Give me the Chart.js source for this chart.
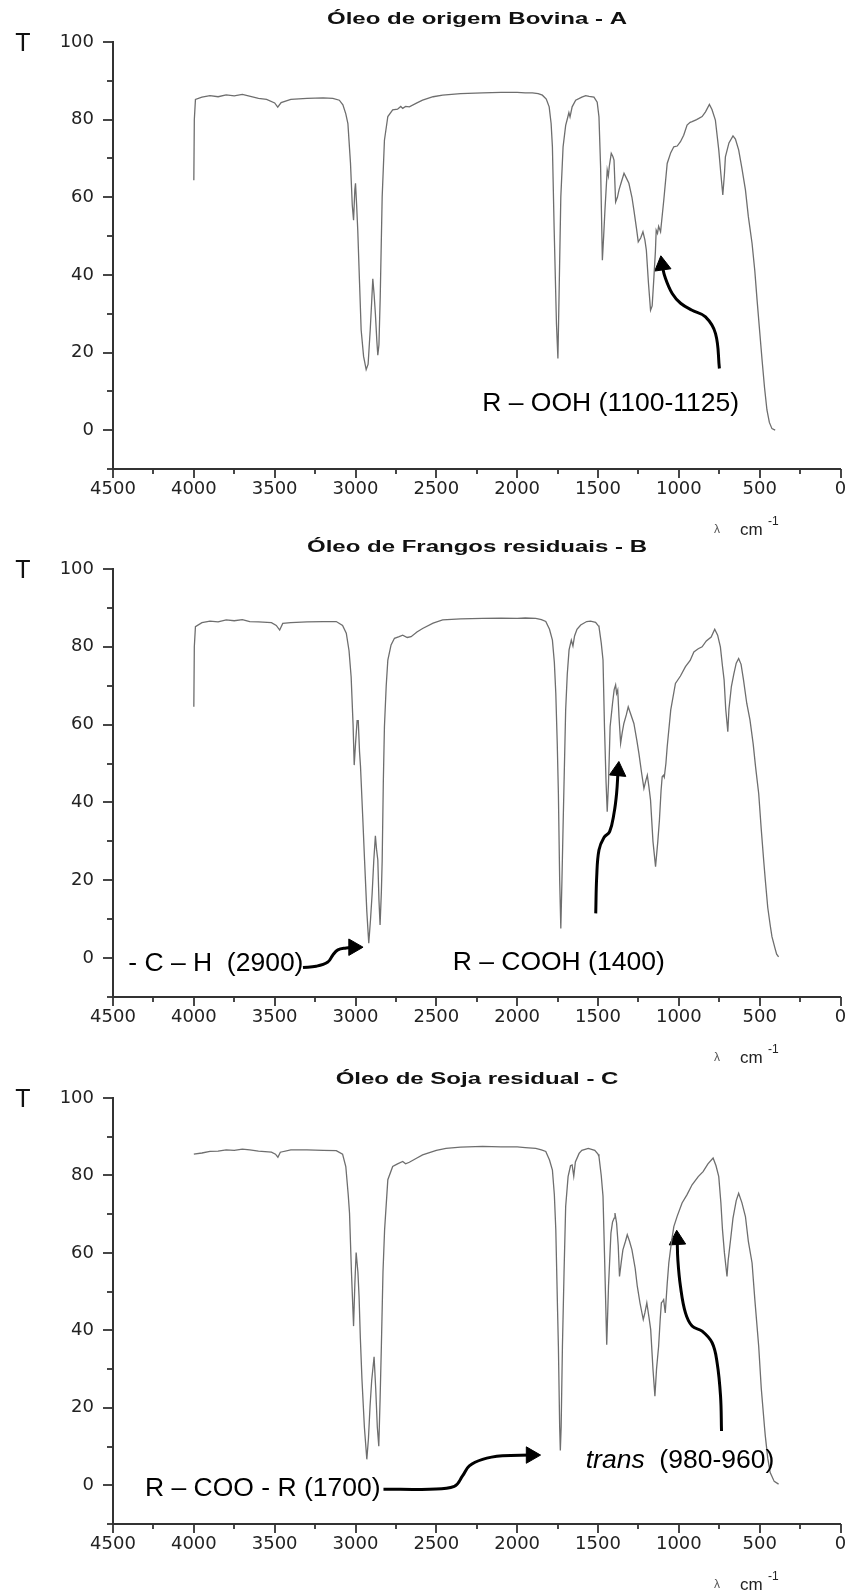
<!DOCTYPE html>
<html>
<head>
<meta charset="utf-8">
<title>Espectros FTIR</title>
<script src="https://cdn.jsdelivr.net/npm/chart.js@4.4.0/dist/chart.umd.min.js"></script>
<style>
  html, body { margin: 0; padding: 0; background: #fff; overflow: hidden; }
  .sheet { position: relative; width: 851px; height: 1593px; }
  .sheet canvas { position: absolute; left: 0; top: 0; }
</style>
</head>
<body>
<div class="sheet">
  <canvas id="chartA" width="851" height="1593"></canvas>
  <canvas id="chartB" width="851" height="1593"></canvas>
  <canvas id="chartC" width="851" height="1593"></canvas>
</div>
<script>
// tick labels
const xTickLabels = [4500, 4000, 3500, 3000, 2500, 2000, 1500, 1000, 500, 0];
const yTickLabels = [0, 20, 40, 60, 80, 100];

// A - oleo bovino (wavenumber cm-1 / transmittance)
const wnA = [4000, 3997, 3990, 3950, 3900, 3850, 3800, 3750, 3700, 3650, 3600, 3550, 3500, 3481, 3460, 3400, 3300, 3200, 3140, 3100,
  3078, 3060, 3047, 3031, 3020, 3012, 3004, 3000, 2993, 2986, 2975, 2965, 2950, 2934, 2922, 2909, 2900, 2893, 2885, 2877,
  2868, 2862, 2855, 2847, 2835, 2821, 2800, 2770, 2740, 2720, 2708, 2690, 2667, 2620, 2585, 2520, 2461, 2350, 2214, 2100,
  2000, 1950, 1906, 1870, 1844, 1820, 1802, 1790, 1782, 1771, 1757, 1748, 1741, 1730, 1716, 1700, 1689, 1680, 1673, 1660,
  1638, 1600, 1576, 1555, 1525, 1505, 1494, 1484, 1473, 1465, 1457, 1443, 1436, 1430, 1418, 1408, 1401, 1391, 1380, 1370,
  1355, 1339, 1325, 1309, 1290, 1278, 1262, 1251, 1236, 1222, 1210, 1201, 1188, 1175, 1165, 1154, 1145, 1140, 1132, 1125,
  1113, 1093, 1072, 1050, 1031, 1010, 990, 970, 949, 930, 918, 890, 856, 835, 811, 795, 774, 753, 740, 728,
  718, 712, 690, 665, 650, 630, 610, 588, 570, 547, 530, 516, 500, 485, 470, 455, 440, 424, 404];
const tA = [64.4, 80, 85.2, 85.8, 86.2, 85.9, 86.4, 86.1, 86.5, 86.0, 85.5, 85.2, 84.3, 83.2, 84.4, 85.2, 85.5, 85.6, 85.5, 85.0,
  83.8, 81.5, 79, 68.8, 58, 54.1, 62, 63.6, 58, 51.5, 38, 25.8, 19, 15.6, 17, 25.8, 33, 39, 35, 30,
  23, 19.3, 22, 34.4, 60.1, 74.7, 80.8, 82.5, 82.7, 83.4, 82.9, 83.4, 83.3, 84.3, 85, 85.9, 86.3, 86.7, 86.9, 87.0,
  87.0, 86.9, 86.9, 86.7, 86.3, 85.3, 83.3, 79, 73, 51.5, 27.5, 18.5, 34.4, 60.1, 73, 78.5, 80.3, 81.8, 80.7, 83.3,
  85, 85.8, 86.2, 86, 85.8, 84.5, 80.7, 67.9, 43.8, 50, 56.7, 67, 65.5, 68, 71.3, 70.5, 69.6, 58.8, 60, 61.9,
  64, 66.2, 65, 63.6, 60, 56.7, 52, 48.5, 49.5, 51.1, 49, 46.4, 38, 30.9, 32, 39.5, 46, 51.5, 50.7, 52.5,
  51.1, 59.3, 68.7, 71.5, 73, 73.2, 74.3, 76, 78.6, 79.3, 79.5, 80, 80.8, 82, 83.9, 82.6, 79.9, 72.2, 66, 60.6,
  66, 70.4, 74, 75.8, 75, 72.2, 67.5, 61.9, 55, 48.1, 41, 33.5, 25.5, 18, 11, 5.2, 2, 0.4, 0];

// B - oleo de frangos residuais
const wnB = [4000, 3997, 3990, 3950, 3900, 3850, 3800, 3750, 3700, 3654, 3600, 3520, 3490, 3469, 3450, 3400, 3300, 3200, 3119, 3080,
  3057, 3040, 3027, 3015, 3008, 3000, 2990, 2983, 2975, 2969, 2955, 2944, 2930, 2918, 2907, 2897, 2887, 2877, 2870, 2862,
  2855, 2848, 2840, 2835, 2828, 2821, 2810, 2800, 2780, 2759, 2730, 2708, 2680, 2656, 2620, 2585, 2520, 2461, 2350, 2214,
  2100, 2000, 1950, 1885, 1850, 1823, 1800, 1782, 1770, 1761, 1752, 1745, 1737, 1730, 1723, 1716, 1700, 1690, 1679, 1665,
  1655, 1645, 1630, 1607, 1570, 1546, 1515, 1500, 1494, 1480, 1469, 1460, 1450, 1443, 1435, 1425, 1410, 1400, 1391, 1385,
  1378, 1370, 1360, 1350, 1340, 1325, 1313, 1300, 1278, 1260, 1247, 1230, 1216, 1205, 1195, 1185, 1175, 1160, 1144, 1130,
  1120, 1110, 1103, 1095, 1090, 1080, 1072, 1050, 1021, 990, 959, 930, 907, 880, 856, 830, 800, 778, 760, 743,
  730, 720, 710, 697, 690, 675, 660, 645, 630, 615, 600, 580, 560, 540, 525, 506, 490, 475, 465, 450,
  435, 424, 405, 395, 383];
const tB = [64.6, 80, 85.2, 86.2, 86.6, 86.4, 86.9, 86.7, 87.0, 86.5, 86.4, 86.2, 85.5, 84.3, 86, 86.2, 86.4, 86.5, 86.5, 85.5,
  83.5, 79, 72.3, 60, 49.6, 55, 61, 61, 53, 49.2, 36, 25.2, 12, 3.8, 10, 16.6, 25, 31.4, 28, 25.2,
  15, 8.5, 17, 25, 45, 59.5, 70, 76.6, 80.5, 82.2, 82.6, 83, 82.4, 82.6, 83.8, 84.7, 86.1, 86.9, 87.2, 87.3,
  87.4, 87.3, 87.4, 87.3, 87.0, 86.5, 84.5, 81.7, 76, 68, 55, 42.3, 20, 7.6, 20, 33.8, 63.8, 73, 79.2, 81.7,
  80.2, 82.8, 84.5, 85.6, 86.5, 86.6, 86.3, 85.5, 85.2, 81, 76.6, 59.5, 45, 37.6, 45, 59.5, 65.5, 69, 70.2, 68,
  68.9, 62, 55.2, 58, 60.3, 62.5, 64.6, 63, 60.3, 56, 52.6, 47.5, 43.6, 45.5, 47, 44, 40.6, 30, 23.5, 30,
  35.5, 43, 46.6, 47, 46.5, 50, 54.3, 63.8, 70.6, 72.5, 74.9, 76.5, 78.7, 79.5, 80, 81.5, 82.5, 84.5, 83, 80,
  75, 71.5, 64, 58.2, 64, 69.8, 73, 75.8, 77, 75.5, 71.5, 65.5, 61.2, 55, 49, 42.3, 33, 25, 20, 13,
  8.5, 5.5, 2.5, 1, 0.3];

// C - oleo de soja residual
const wnC = [4000, 3950, 3900, 3850, 3800, 3750, 3700, 3654, 3600, 3520, 3495, 3480, 3465, 3400, 3300, 3200, 3119, 3080, 3060, 3045,
  3037, 3025, 3012, 3004, 2996, 2985, 2978, 2970, 2960, 2945, 2930, 2920, 2910, 2900, 2885, 2875, 2865, 2856, 2848, 2840,
  2830, 2820, 2800, 2770, 2740, 2708, 2690, 2667, 2620, 2585, 2500, 2440, 2350, 2214, 2100, 2000, 1950, 1885, 1850, 1823,
  1800, 1782, 1770, 1761, 1750, 1745, 1737, 1733, 1728, 1720, 1710, 1700, 1685, 1670, 1660, 1650, 1640, 1617, 1600, 1560,
  1520, 1500, 1494, 1480, 1469, 1460, 1446, 1435, 1420, 1410, 1400, 1395, 1385, 1375, 1367, 1355, 1346, 1330, 1319, 1305,
  1290, 1270, 1257, 1240, 1220, 1210, 1198, 1185, 1174, 1160, 1148, 1138, 1125, 1115, 1108, 1100, 1094, 1084, 1072, 1062,
  1045, 1031, 1010, 980, 950, 918, 880, 850, 820, 788, 770, 753, 740, 730, 718, 702, 695, 680, 665, 645,
  630, 610, 588, 570, 547, 530, 506, 490, 470, 465, 450, 435, 410, 383];
const tC = [85.5, 85.8, 86.2, 86.3, 86.6, 86.5, 86.8, 86.6, 86.3, 86, 85.5, 84.7, 86, 86.6, 86.6, 86.5, 86.4, 85.5, 82.3, 75,
  70.3, 55, 41.1, 52, 60.1, 55, 48.8, 38, 27.3, 15, 6.7, 12, 20.4, 27, 33.2, 25, 15, 10.1, 22, 35.9,
  55, 66, 78.9, 82.3, 83, 83.6, 83, 83.4, 84.5, 85.3, 86.5, 87, 87.3, 87.5, 87.4, 87.4, 87.2, 87, 86.6, 86.2,
  84, 81.4, 75, 66, 45, 35.9, 15, 9, 15, 35.9, 55, 72, 79.7, 82.5, 82.7, 79.8, 83.5, 85.7, 86.5, 87,
  86.5, 85.5, 84.9, 80, 74.6, 60, 36.3, 51.4, 65.1, 68, 69, 70.3, 67.7, 62, 53.9, 58, 60.8, 63, 64.7, 63,
  60.8, 56, 51.4, 47, 42.8, 44.5, 47.1, 43.5, 40.2, 30, 23, 30, 35.9, 43, 47.1, 47.5, 47.9, 44.5, 52, 57.4,
  63, 66.8, 69.5, 72.9, 75, 77.6, 79.7, 81, 83, 84.5, 82.5, 79.7, 73, 66, 60, 53.9, 58, 63.4, 69, 73.5,
  75.4, 73, 69.4, 63, 57.4, 48, 35.9, 25, 15, 12.7, 7, 3.3, 1, 0.3];

// annotation arrows, wavenumber / transmittance along each path
const arrowOOHwn = [749, 773, 835, 918, 989, 1041, 1086, 1103];
const arrowOOHt = [15.9, 24.9, 29.2, 30.9, 32.7, 35.2, 39.5, 42.5];
const arrowCHwn = [3325, 3243, 3171, 3140, 3109, 3057, 3012];
const arrowCHt = [-2.4, -2.1, -1.0, 0.8, 2.1, 2.6, 2.8];
const arrowCOOHwn = [1514, 1508, 1494, 1463, 1428, 1401, 1385, 1376];
const arrowCOOHt = [11.5, 20.9, 27.8, 31.0, 32.5, 37.2, 42.3, 48.1];
const arrowCOOwn = [2827, 2543, 2389, 2338, 2296, 2214, 2091, 1914];
const arrowCOOt = [-1.0, -1.0, -0.3, 2.4, 5.0, 6.7, 7.6, 7.8];
const arrowTransWn = [736, 742, 763, 794, 856, 918, 959, 990, 1006, 1010];
const arrowTransT = [14.0, 23.0, 31.6, 36.8, 39.8, 41.1, 44.5, 51.4, 58.2, 63.4];

const panels = [
  {
    id: 'chartA', top: 42, bottom: 469, title: 'Óleo de origem Bovina - A', titleY: 20,
    wn: wnA, t: tA,
    arrows: [{ wn: arrowOOHwn, t: arrowOOHt, rot: -8 }],
    notes: [{ wn: 2216, t: 6.7, parts: [{ text: 'R – OOH (1100-1125)' }] }]
  },
  {
    id: 'chartB', top: 569, bottom: 997, title: 'Óleo de Frangos residuais - B', titleY: 548,
    wn: wnB, t: tB,
    arrows: [{ wn: arrowCHwn, t: arrowCHt, rot: 90 }, { wn: arrowCOOHwn, t: arrowCOOHt, rot: 5 }],
    notes: [
      { wn: 4406, t: -1.4, parts: [{ text: '- C – H  (2900)' }] },
      { wn: 2399, t: -1.3, parts: [{ text: 'R – COOH (1400)' }] }
    ]
  },
  {
    id: 'chartC', top: 1098, bottom: 1524, title: 'Óleo de Soja residual - C', titleY: 1080,
    wn: wnC, t: tC,
    arrows: [{ wn: arrowCOOwn, t: arrowCOOt, rot: 90 }, { wn: arrowTransWn, t: arrowTransT, rot: -3 }],
    notes: [
      { wn: 4302, t: -1.0, parts: [{ text: 'R – COO - R (1700)' }] },
      { wn: 1576, t: 6.3, parts: [{ text: 'trans', italic: true }, { text: '  (980-960)' }] }
    ]
  }
];

const H = 1593;
const X_AXIS_H = 40;

// draws ticks, titles and the notes for one panel
function makeDecor(panel) {
  return {
    id: 'decor' + panel.id,
    afterDraw(chart) {
      const ctx = chart.ctx;
      const xs = chart.scales.x;
      const ys = chart.scales.y;
      const area = chart.chartArea;
      ctx.save();

      // tick marks, major ones longer
      ctx.strokeStyle = '#333';
      ctx.lineWidth = 1.8;
      xs.ticks.forEach(tk => {
        const px = Math.round(xs.getPixelForValue(tk.value));
        const len = xTickLabels.includes(tk.value) ? 9 : 5;
        ctx.beginPath();
        ctx.moveTo(px, area.bottom);
        ctx.lineTo(px, area.bottom + len);
        ctx.stroke();
      });
      ys.ticks.forEach(tk => {
        const py = Math.round(ys.getPixelForValue(tk.value));
        const len = yTickLabels.includes(tk.value) ? 10 : 6;
        ctx.beginPath();
        ctx.moveTo(area.left, py);
        ctx.lineTo(area.left - len, py);
        ctx.stroke();
      });

      // title, wide bold
      ctx.fillStyle = '#111';
      ctx.textBaseline = 'middle';
      ctx.save();
      ctx.translate(477, panel.titleY);
      ctx.scale(1.5, 1);
      ctx.font = 'bold 16px "Liberation Sans", Arial, sans-serif';
      ctx.textAlign = 'center';
      ctx.fillText(panel.title, 0, 0);
      ctx.restore();

      // axis names
      ctx.font = '25px "Liberation Sans", Arial, sans-serif';
      ctx.textAlign = 'center';
      ctx.fillText('T', 23, area.top + 2);

      const uy = area.bottom + 61;
      ctx.fillStyle = '#555';
      ctx.font = '12px "Liberation Sans", Arial, sans-serif';
      ctx.fillText('λ', 717, uy);
      ctx.fillStyle = '#222';
      ctx.textAlign = 'left';
      ctx.font = '17px "Liberation Sans", Arial, sans-serif';
      ctx.fillText('cm', 740, uy);
      ctx.font = '12px "Liberation Sans", Arial, sans-serif';
      ctx.fillText('-1', 768, uy - 8);

      // annotations anchored in data space
      ctx.fillStyle = '#000';
      panel.notes.forEach(n => {
        let px = xs.getPixelForValue(n.wn);
        const py = ys.getPixelForValue(n.t);
        n.parts.forEach(p => {
          ctx.font = (p.italic ? 'italic ' : '') + '26.5px "Liberation Sans", Arial, sans-serif';
          ctx.fillText(p.text, px, py);
          px += ctx.measureText(p.text).width;
        });
      });
      ctx.restore();
    }
  };
}

function buildChart(panel) {
  const datasets = [{
    data: panel.wn.map((w, i) => ({ x: w, y: panel.t[i] })),
    borderColor: '#6e6e6e',
    borderWidth: 1.3,
    pointRadius: 0,
    tension: 0
  }];
  panel.arrows.forEach(a => {
    const last = a.wn.length - 1;
    datasets.push({
      data: a.wn.map((w, i) => ({ x: w, y: a.t[i] })),
      borderColor: '#000',
      borderWidth: 3,
      tension: 0.4,
      pointStyle: 'triangle',
      pointRotation: a.rot,
      pointRadius: c => c.dataIndex === last ? 9.5 : 0,
      pointBackgroundColor: '#000',
      pointBorderColor: '#000',
      pointBorderWidth: 1
    });
  });

  const tickFont = { family: '"DejaVu Sans", sans-serif', size: 18 };
  return new Chart(document.getElementById(panel.id), {
    type: 'line',
    data: { datasets },
    options: {
      responsive: false,
      animation: false,
      events: [],
      layout: { padding: { left: 0, right: 9, top: panel.top, bottom: H - panel.bottom - X_AXIS_H } },
      plugins: { legend: { display: false }, tooltip: { enabled: false }, title: { display: false } },
      scales: {
        x: {
          type: 'linear', reverse: true, min: 0, max: 4500,
          afterFit: s => { s.height = X_AXIS_H; },
          grid: { display: false, drawTicks: true, tickLength: 9 },
          border: { display: true, color: '#333', width: 2 },
          ticks: {
            stepSize: 250, autoSkip: false, maxRotation: 0, minRotation: 0, padding: 1,
            color: '#222', font: tickFont,
            callback: v => xTickLabels.includes(v) ? String(v) : ''
          }
        },
        y: {
          type: 'linear', min: -10, max: 100,
          afterFit: s => { s.width = 113; },
          grid: { display: false, drawTicks: true, tickLength: 10 },
          border: { display: true, color: '#333', width: 2 },
          ticks: {
            stepSize: 10, padding: 9, color: '#222', font: tickFont,
            callback: v => yTickLabels.includes(v) ? String(v) : ''
          }
        }
      }
    },
    plugins: [makeDecor(panel)]
  });
}

const charts = panels.map(buildChart);
</script>
</body>
</html>
